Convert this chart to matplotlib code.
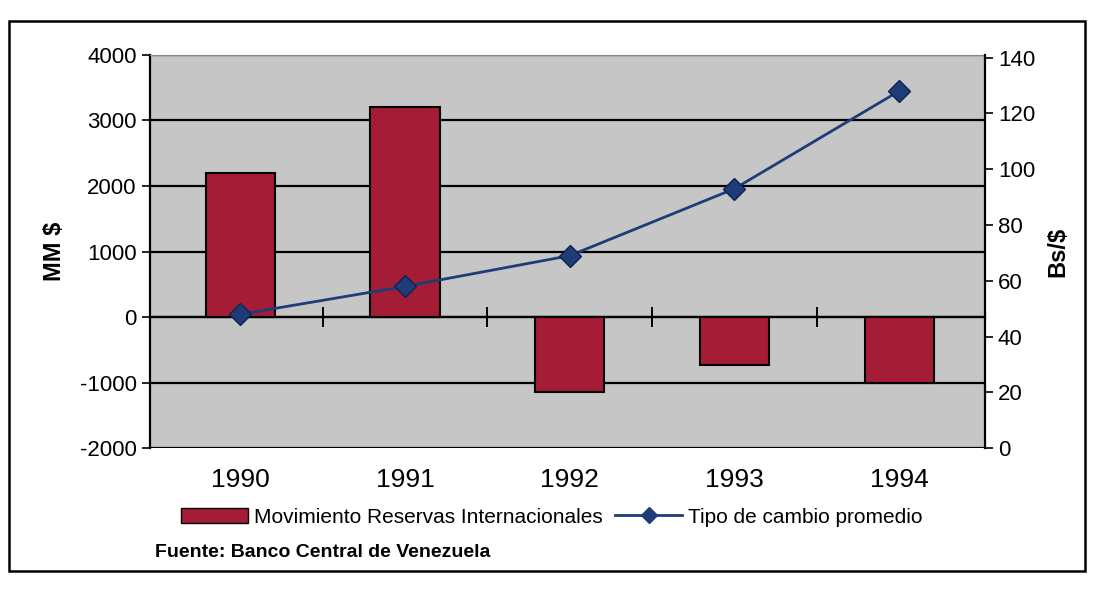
import matplotlib.pyplot as plt
from matplotlib.patches import Rectangle
from matplotlib.lines import Line2D
from matplotlib.patches import Patch
import matplotlib.transforms as mtransforms

plt.rcParams["font.family"] = ["Liberation Sans", "DejaVu Sans"]
plt.rcParams["axes.unicode_minus"] = False

# data
years = ["1990", "1991", "1992", "1993", "1994"]
reservas = [2200, 3200, -1150, -730, -1000]        # MM $
tipo_cambio = [48, 58, 69, 93, 128]                # Bs/$

BAR_COLOR = "#a51c36"
LINE_COLOR = "#1d3c78"
BG = "#c6c6c6"

fig = plt.figure(figsize=(10.93, 5.89), dpi=100)
ax = fig.add_axes([0.137, 0.239, 0.764, 0.668])
ax.set_facecolor(BG)

x = list(range(len(years)))
ax.bar(x, reservas, width=0.42, color=BAR_COLOR, edgecolor="black",
       linewidth=1.5, zorder=3)
ax.set_ylim(-2000, 4000)
ax.set_xlim(-0.55, 4.52)
ax.set_yticks(range(-2000, 4001, 1000))
ax.yaxis.grid(True, color="black", linewidth=1.6, zorder=1)
ax.set_axisbelow(True)
ax.tick_params(axis="y", labelsize=16, length=6, width=1.2, direction="out")
ax.set_ylabel("MM $", fontsize=17, fontweight="bold", labelpad=10)

# category axis drawn at zero, ticks between the years
ax.spines["bottom"].set_position(("data", 0))
ax.spines["bottom"].set_linewidth(1.6)
ax.set_xticks([0.5, 1.5, 2.5, 3.5])
ax.set_xticklabels([])
ax.tick_params(axis="x", direction="inout", length=14, width=1.4)
ax.spines["top"].set_color("#888888")
ax.spines["top"].set_linewidth(0.8)
ax.spines["left"].set_linewidth(1.6)
ax.spines["right"].set_visible(False)

trans = mtransforms.blended_transform_factory(ax.transData, ax.transAxes)
for xi, yr in zip(x, years):
    ax.text(xi, -0.08, yr, transform=trans, ha="center", va="center",
            fontsize=19)

ax2 = ax.twinx()
ax2.plot(x, tipo_cambio, color=LINE_COLOR, linewidth=2, marker="D",
         markersize=11, markerfacecolor=LINE_COLOR, markeredgecolor="#0d2350",
         zorder=5)
ax2.set_ylim(0, 141)
ax2.set_yticks(range(0, 141, 20))
ax2.tick_params(axis="y", labelsize=16, length=6, width=1.2)
ax2.set_ylabel("Bs/$", fontsize=17, fontweight="bold", labelpad=8)
for side in ("top", "bottom", "left"):
    ax2.spines[side].set_visible(False)
ax2.spines["right"].set_linewidth(1.6)

handles = [
    Patch(facecolor=BAR_COLOR, edgecolor="black",
          label="Movimiento Reservas Internacionales"),
    Line2D([0], [0], color=LINE_COLOR, linewidth=2, marker="D",
           markersize=8, label="Tipo de cambio promedio"),
]
fig.legend(handles=handles, loc="center", bbox_to_anchor=(0.505, 0.122),
           ncol=2, frameon=False, fontsize=15, handlelength=3.2,
           handletextpad=0.3, columnspacing=0.6)

fig.text(0.142, 0.062, "Fuente: Banco Central de Venezuela", fontsize=14,
         fontweight="bold", ha="left", va="center")

# outer frame of the chart box
fig.patches.append(Rectangle((0.008, 0.03), 0.985, 0.935, transform=fig.transFigure,
                             fill=False, edgecolor="black", linewidth=1.8))

fig.savefig("out.png", dpi=100)
